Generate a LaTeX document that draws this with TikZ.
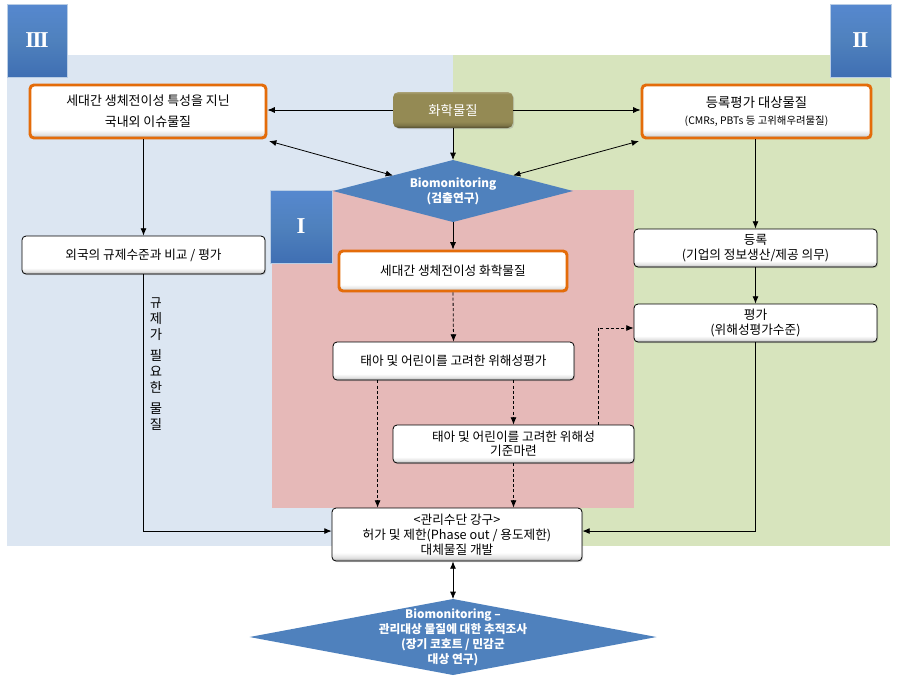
\documentclass[tikz,border=0pt]{standalone}
\usepackage{fontspec}
\setmainfont{Noto Sans CJK KR}
\newfontfamily\romfont{Liberation Serif}
\usetikzlibrary{arrows.meta,shapes.geometric,shadows,calc}

\definecolor{bgblue}{HTML}{DCE6F2}
\definecolor{bggreen}{HTML}{D7E4BD}
\definecolor{bgpink}{HTML}{E6B9B8}
\definecolor{dblue}{HTML}{4F81BD}
\definecolor{orng}{HTML}{E46C0A}
\definecolor{olivebox}{HTML}{948A54}
\definecolor{badgetop}{HTML}{5688CF}
\definecolor{badgebot}{HTML}{3F6FB3}

\pgfdeclareverticalshading{boxshade}{100bp}{color(0bp)=(black!40); color(25bp)=(black!40); color(28bp)=(black!12); color(33bp)=(white); color(100bp)=(white)}
\pgfdeclareverticalshading{oliveshade}{100bp}{color(0bp)=(olivebox!55!black); color(25bp)=(olivebox!55!black); color(29bp)=(olivebox!85!black); color(34bp)=(olivebox); color(72bp)=(olivebox); color(75bp)=(olivebox!80!white); color(100bp)=(olivebox!80!white)}
\pgfdeclareverticalshading{badgeshade}{100bp}{color(0bp)=(badgebot); color(25bp)=(badgebot); color(50bp)=(dblue); color(75bp)=(badgetop); color(100bp)=(badgetop)}

\def\pxu{0.75pt}
\newcommand\fsn{\fontsize{9.5}{10.8}\selectfont}

\tikzset{
  wbox/.style={draw=black, line width=0.6pt, rounded corners=3pt, shading=boxshade,
     align=center, inner sep=1pt, font=\fsn,
     drop shadow={shadow xshift=0.9pt, shadow yshift=-0.9pt, opacity=0.3}},
  obox/.style={wbox, draw=orng, line width=2.2pt},
  chembox/.style={rounded corners=4pt, shading=oliveshade, text=white, align=center,
     font=\fontsize{10}{11}\selectfont,
     drop shadow={shadow xshift=0.9pt, shadow yshift=-0.9pt, opacity=0.3}},
  badge/.style={shading=badgeshade, draw=white!60!dblue, line width=0.6pt, text=white,
     font=\romfont\bfseries\fontsize{17}{17}\selectfont,
     drop shadow={shadow xshift=1pt, shadow yshift=-1pt, opacity=0.3}},
  diam/.style={diamond, fill=dblue, inner sep=0pt, outer sep=0pt},
  dlabel/.style={text=white, align=center, font=\bfseries\fontsize{8.8}{11.2}\selectfont},
  arr/.style={-{Latex[length=5.5pt,width=4.5pt]}, line width=0.6pt},
  darr/.style={{Latex[length=5.5pt,width=4.5pt]}-{Latex[length=5.5pt,width=4.5pt]}, line width=0.6pt},
  dsh/.style={dash pattern=on 2.3pt off 1.6pt},
}

\begin{document}
\begin{tikzpicture}[x=0.75pt,y=-0.75pt]
\useasboundingbox (0,0) rectangle (898,676);

% background regions
\fill[bgblue] (7,55) rectangle (455,546);
\fill[bggreen] (453,55) rectangle (890,546);
\fill[bgpink] (272,190) rectangle (634,508);

% badges
\node[badge, minimum width=60*\pxu, minimum height=73*\pxu] (b3) at (37,40.5) {I\kern-1.2ptI\kern-1.2ptI};
\node[badge, minimum width=61*\pxu, minimum height=73*\pxu] (b2) at (860.5,40.5) {I\kern-1.2ptI};
\node[badge, minimum width=62*\pxu, minimum height=73*\pxu] (b1) at (301,226.5) {I};

% nodes
\node[chembox, minimum width=120*\pxu, minimum height=36*\pxu] (chem) at (453,110) {화학물질};
\node[obox, minimum width=236*\pxu, minimum height=53*\pxu, font=\fontsize{9.7}{11}\selectfont] (L1) at (148,111.5)
  {세대간 생체전이성 특성을 지닌\\[5pt]국내외 이슈물질};
\node[obox, minimum width=229*\pxu, minimum height=53*\pxu] (R1) at (756.5,111.5)
  {{\fontsize{10}{11}\selectfont 등록평가 대상물질}\\[2pt]{\fontsize{7.8}{9}\selectfont (CMRs, PBTs 등 고위해우려물질)}};
\node[diam, minimum width=240*\pxu, minimum height=62*\pxu,
  label={[dlabel]center:Biomonitoring\\(검출연구)}] (D1) at (453,191) {};
\node[wbox, minimum width=243*\pxu, minimum height=38*\pxu] (L2) at (143.5,255)
  {외국의 규제수준과 비교 / 평가};
\node[align=center, inner sep=0pt] (vlab) at (156,364)
  {\fontsize{9.5}{10.1}\selectfont 규\\제\\가\\[4pt]필\\요\\한\\[4pt]물\\질};
\node[obox, minimum width=228*\pxu, minimum height=40*\pxu] (C1) at (453,271)
  {세대간 생체전이성 화학물질};
\node[wbox, minimum width=241*\pxu, minimum height=38*\pxu] (C2) at (453.5,361)
  {태아 및 어린이를 고려한 위해성평가};
\node[wbox, minimum width=241*\pxu, minimum height=38*\pxu] (C3) at (513.5,444)
  {태아 및 어린이를 고려한 위해성\\기준마련};
\node[wbox, minimum width=243*\pxu, minimum height=38*\pxu] (R2) at (755.5,248)
  {등록\\(기업의 정보생산/제공 의무)};
\node[wbox, minimum width=243*\pxu, minimum height=38*\pxu] (R3) at (755.5,323)
  {평가\\(위해성평가수준)};
\node[wbox, minimum width=250*\pxu, minimum height=53*\pxu,
  font=\fontsize{9.5}{11.25}\selectfont] (M) at (457,534.5)
  {<관리수단 강구>\\허가 및 제한(Phase out / 용도제한)\\대체물질 개발};
\node[diam, minimum width=407*\pxu, minimum height=76*\pxu,
  label={[dlabel]center:Biomonitoring –\\관리대상 물질에 대한 추적조사\\(장기 코호트 / 민감군\\대상 연구)}] (D2) at (453,637) {};

% connectors
\draw[arr] (chem.west) -- (chem.west -| L1.east);
\draw[arr] (chem.east) -- (chem.east -| R1.west);
\draw[arr] (chem.south) -- (D1.north);
\draw[darr] ([shift={(1.2pt,-1.2pt)}]L1.south east) -- ($(D1.west)!0.5!(D1.north)$);
\draw[darr] ([shift={(-1.2pt,-1.2pt)}]R1.south west) -- ($(D1.east)!0.5!(D1.north)$);
\draw[arr] (L1.south -| L2.north) -- (L2.north);
\draw[arr] (L2.south) |- ([yshift=2.6pt]M.west);
\draw[arr] (D1.south) -- (C1.north);
\draw[arr,dsh] (C1.south) -- (C2.north);
\draw[arr,dsh] (C2.south -| C3.north) -- (C3.north);
\coordinate (c2l) at ($(C2.south west)!0.186!(C2.south east)$);
\draw[arr,dsh] (c2l) -- (c2l |- M.north);
\draw[arr,dsh] (C3.south) -- (C3.south |- M.north);
\coordinate (c3r) at ($(C3.north west)!0.85!(C3.north east)$);
\draw[arr,dsh] (c3r) |- ([yshift=-3.75pt]R3.west);
\draw[arr] (R1.south -| R2.north) -- (R2.north);
\draw[arr] (R2.south) -- (R3.north);
\draw[arr] (R3.south) |- ([yshift=2.6pt]M.east);
\draw[darr] (M.south -| D2.north) -- (D2.north);
\end{tikzpicture}
\end{document}
